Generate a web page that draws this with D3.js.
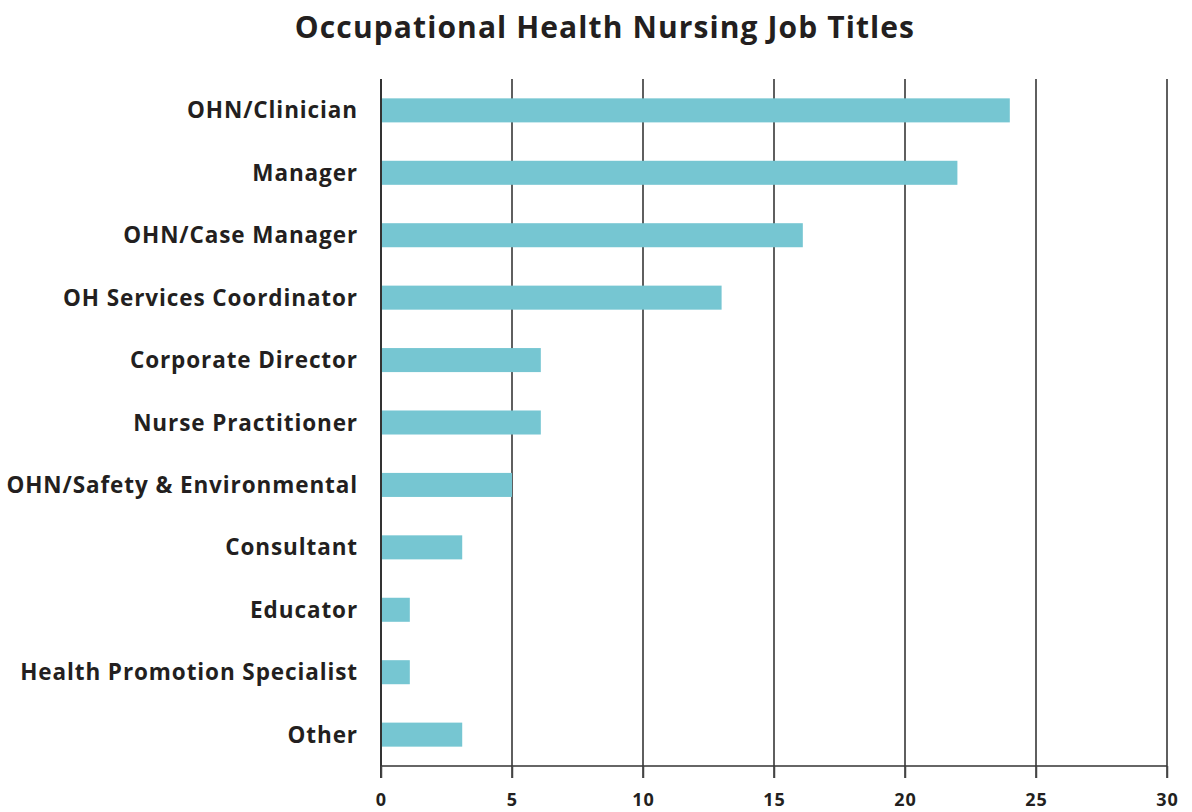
<!DOCTYPE html>
<html>
<head>
<meta charset="utf-8">
<script src="https://cdn.jsdelivr.net/npm/d3@7"></script>
<style>
  html, body { margin: 0; padding: 0; background: #fff; }
  svg { display: block; }
  text { font-family: "Open Sans", "Noto Sans", sans-serif; fill: #231f20; }
</style>
</head>
<body>
<svg id="chart" width="1192" height="812"></svg>
<script>
const categories = [
  "OHN/Clinician",
  "Manager",
  "OHN/Case Manager",
  "OH Services Coordinator",
  "Corporate Director",
  "Nurse Practitioner",
  "OHN/Safety & Environmental",
  "Consultant",
  "Educator",
  "Health Promotion Specialist",
  "Other"
];
const values = [24, 22, 16.1, 13, 6.1, 6.1, 5, 3.1, 1.1, 1.1, 3.1];
const xTicks = [0, 5, 10, 15, 20, 25, 30];
const title = "Occupational Health Nursing Job Titles";

const svg = d3.select("#chart");
const margin = { left: 381, right: 25, top: 79, bottom: 46 };
const W = 1192, H = 812;

const x = d3.scaleLinear().domain([0, 30]).range([margin.left, W - margin.right]);
const y = d3.scaleBand().domain(categories).range([margin.top, H - margin.bottom]).paddingInner(0.615).paddingOuter(0.31);

// gridlines
svg.append("g")
  .selectAll("line")
  .data(xTicks.filter(t => t > 0))
  .join("line")
  .attr("x1", d => x(d)).attr("x2", d => x(d))
  .attr("y1", margin.top).attr("y2", H - margin.bottom + 12)
  .attr("stroke", "#5f5f5f").attr("stroke-width", 2);

// bars
svg.append("g")
  .selectAll("rect")
  .data(categories)
  .join("rect")
  .attr("x", x(0))
  .attr("y", d => y(d))
  .attr("width", (d, i) => x(values[i]) - x(0))
  .attr("height", y.bandwidth())
  .attr("fill", "#76c6d2");

// left axis line
svg.append("line")
  .attr("x1", x(0)).attr("x2", x(0))
  .attr("y1", margin.top).attr("y2", H - margin.bottom + 12)
  .attr("stroke", "#333").attr("stroke-width", 2);

// bottom axis
const xAxis = d3.axisBottom(x).tickValues(xTicks).tickSize(12).tickPadding(15).tickFormat(d3.format("d"));
const gx = svg.append("g").attr("transform", `translate(0,${H - margin.bottom})`).call(xAxis);
gx.select(".domain").attr("stroke", "#333").attr("stroke-width", 1.5).attr("d", `M${x(0)},0H${x(30)}`);
gx.selectAll(".tick line").attr("stroke", "#444").attr("stroke-width", 1.5);
gx.selectAll(".tick text").attr("font-size", 18).attr("font-weight", 700).attr("fill", "#231f20")
  .attr("letter-spacing", 1)
  .style("font-family", '"Open Sans", sans-serif');

// category labels
const yAxis = d3.axisLeft(y).tickSize(0).tickPadding(23);
const gy = svg.append("g").attr("transform", `translate(${x(0)},0)`).call(yAxis);
gy.select(".domain").remove();
gy.selectAll(".tick text").attr("font-size", 22.5).attr("font-weight", 700).attr("fill", "#231f20")
  .attr("dy", "0.36em")
  .attr("letter-spacing", 0.9)
  .style("font-family", '"Open Sans", sans-serif');

// title
svg.append("text")
  .attr("x", 605).attr("y", 38)
  .attr("text-anchor", "middle")
  .attr("font-size", 30).attr("font-weight", 700)
  .attr("letter-spacing", 1.1)
  .text(title);
</script>
</body>
</html>
